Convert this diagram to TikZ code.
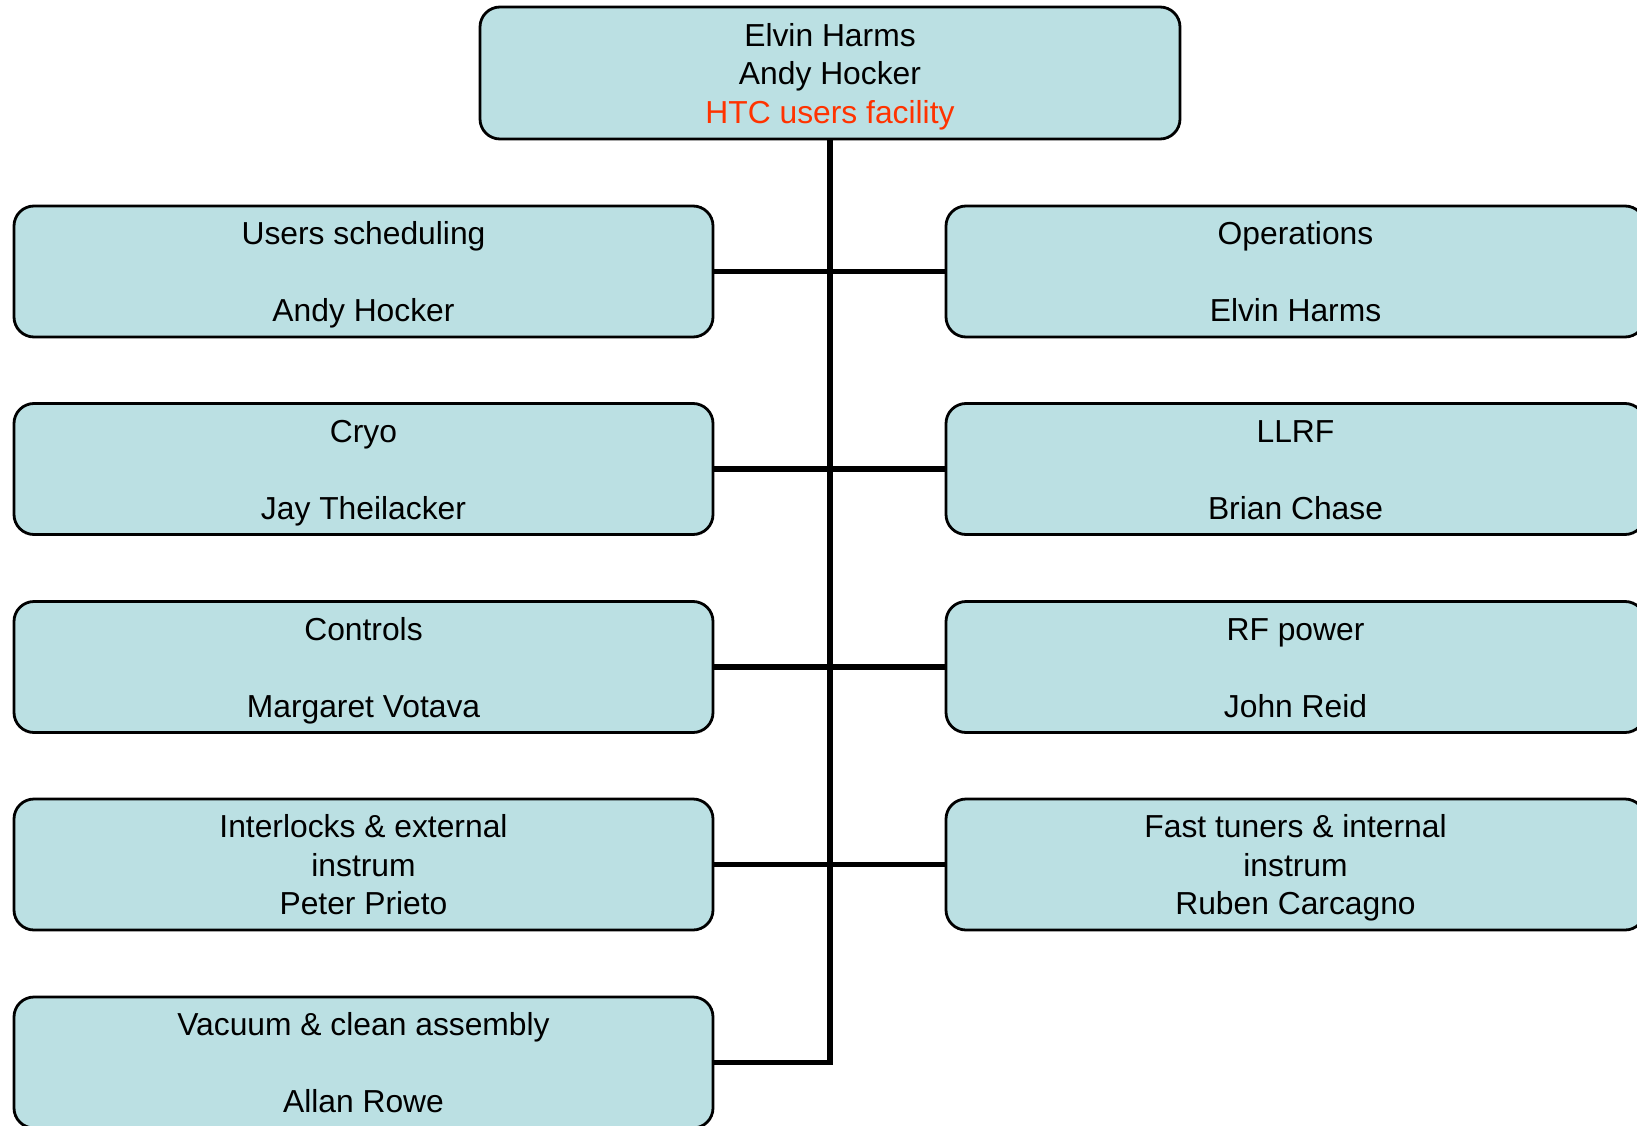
\documentclass[tikz,border=0pt]{standalone}
\usepackage{fontspec}
\setmainfont{Liberation Sans}
\definecolor{boxfill}{RGB}{187,224,227}
\definecolor{htcred}{RGB}{255,51,0}
\newcommand\tstrut{\rule{0pt}{35pt}}
\begin{document}
\begin{tikzpicture}[x=1pt,y=-1pt,
  orgbox/.style={draw=black, line width=2.8pt, fill=boxfill, rounded corners=20pt,
    minimum width=699pt, minimum height=131pt, align=center, inner sep=0pt, outer sep=0pt,
    font=\fontsize{31.8}{38.5}\selectfont},
  link/.style={line width=5.6pt}]
\useasboundingbox (0,0) rectangle (1637,1126);
\clip (0,0) rectangle (1637,1126);
\node[orgbox, minimum width=700pt, minimum height=132pt] (top) at (830,73)
  {\tstrut Elvin Harms\\Andy Hocker\\\textcolor{htcred}{HTC users facility}\strut};
\node[orgbox] (l1) at (363.5,271.5) {\tstrut Users scheduling\\\strut\\Andy Hocker\strut};
\node[orgbox] (l2) at (363.5,469) {\tstrut Cryo\\\strut\\Jay Theilacker\strut};
\node[orgbox] (l3) at (363.5,667) {\tstrut Controls\\\strut\\Margaret Votava\strut};
\node[orgbox] (l4) at (363.5,864.5) {\tstrut Interlocks \& external\\instrum\\Peter Prieto\strut};
\node[orgbox] (l5) at (363.5,1062.5) {\tstrut Vacuum \& clean assembly\\\strut\\Allan Rowe\strut};
\node[orgbox] (r1) at (1295.5,271.5) {\tstrut Operations\\\strut\\Elvin Harms\strut};
\node[orgbox] (r2) at (1295.5,469) {\tstrut LLRF\\\strut\\Brian Chase\strut};
\node[orgbox] (r3) at (1295.5,667) {\tstrut RF power\\\strut\\John Reid\strut};
\node[orgbox] (r4) at (1295.5,864.5) {\tstrut Fast tuners \& internal\\instrum\\Ruben Carcagno\strut};
\draw[link] (top.south) |- (l5.east);
\draw[link] (l1.east) -- (r1.west);
\draw[link] (l2.east) -- (r2.west);
\draw[link] (l3.east) -- (r3.west);
\draw[link] (l4.east) -- (r4.west);
\end{tikzpicture}
\end{document}
